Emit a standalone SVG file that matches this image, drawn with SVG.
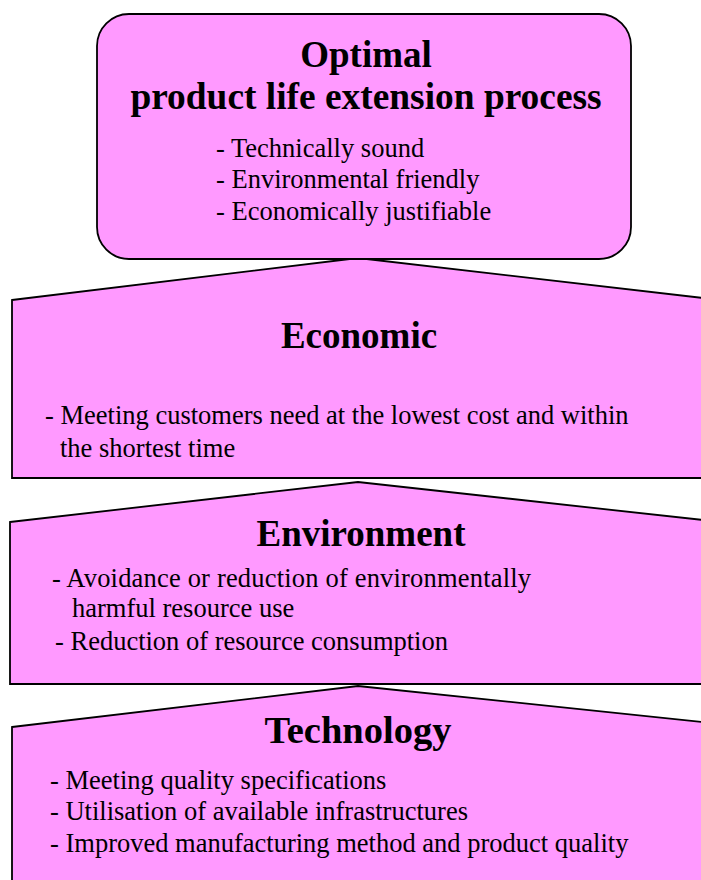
<svg xmlns="http://www.w3.org/2000/svg" width="701" height="880" viewBox="0 0 701 880">
<style>
.shape{fill:#FF99FF;stroke:#000;stroke-width:1.8;stroke-linejoin:miter}
.title{font-family:"Liberation Serif","Times New Roman",serif;font-weight:bold;font-size:37px;fill:#000;text-anchor:middle}
.body{font-family:"Liberation Serif","Times New Roman",serif;font-size:26.5px;fill:#000}
</style>
<rect width="701" height="880" fill="#fff"/>
<g id="connectors"></g>
<g id="node-technology">
<path class="shape" d="M12,727 L358,686 L703,722 L703,885 L12,885 Z"/>
<text class="title" x="358" y="743" style="font-size:38.5px">Technology</text>
<text class="body" x="50" y="789">- Meeting quality specifications</text>
<text class="body" x="50" y="820">- Utilisation of available infrastructures</text>
<text class="body" x="50" y="852">- Improved manufacturing method and product quality</text>
</g>
<g id="node-environment">
<path class="shape" d="M10,522 L358,482 L703,520 L703,684 L10,684 Z"/>
<text class="title" x="361" y="546">Environment</text>
<text class="body" x="52" y="587" textLength="479" lengthAdjust="spacing">-  Avoidance or reduction of environmentally</text>
<text class="body" x="72" y="617">harmful resource use</text>
<text class="body" x="55" y="650">- Reduction of resource consumption</text>
</g>
<g id="node-economic">
<path class="shape" d="M12,300 L358,258 L703,298 L703,478 L12,478 Z"/>
<text class="title" x="359" y="348">Economic</text>
<text class="body" x="45" y="424">- Meeting customers need at the lowest cost and within</text>
<text class="body" x="60" y="457">the shortest time</text>
</g>
<g id="node-optimal">
<rect class="shape" x="97" y="14" width="534" height="245" rx="32" ry="32"/>
<text class="title" x="366" y="67">Optimal</text>
<text class="title" x="366" y="109" style="font-size:37.4px">product life extension process</text>
<text class="body" x="216" y="157">- Technically sound</text>
<text class="body" x="216" y="188">- Environmental friendly</text>
<text class="body" x="216" y="220">- Economically justifiable</text>
</g>
</svg>
